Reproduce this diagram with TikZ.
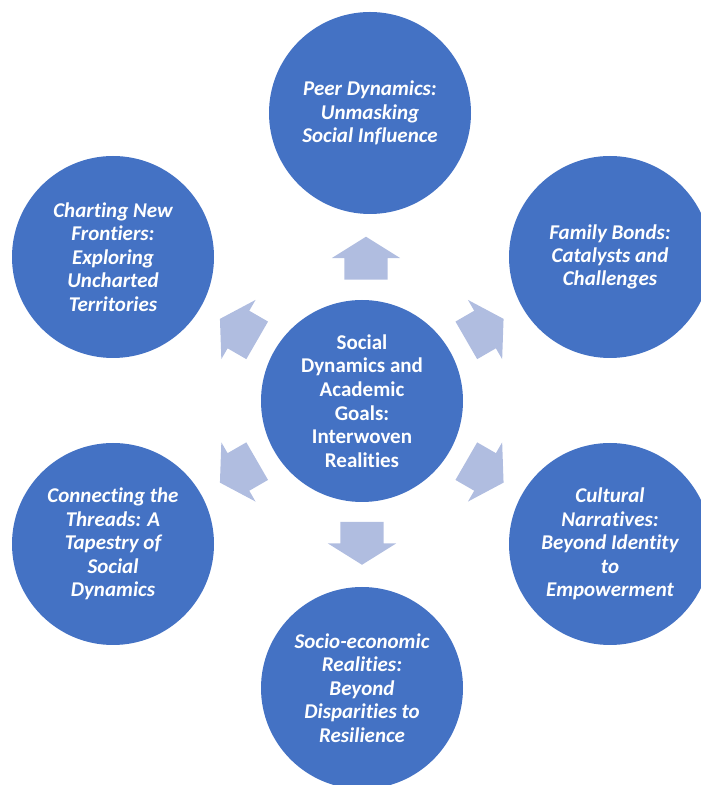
\documentclass[tikz,border=0pt]{standalone}
\usepackage{fontspec}
\setmainfont[Ligatures=NoCommon]{Carlito}
\usetikzlibrary{shapes.arrows,calc}
\definecolor{circblue}{RGB}{68,114,196}
\definecolor{arrblue}{RGB}{176,189,224}

\begin{document}
\begin{tikzpicture}[x=1pt,y=1pt]
                \tikzstyle{topic}=[circle, fill=circblue, minimum size=202pt, inner sep=0pt, text=white, align=center, font=\fontsize{21}{23.4}\selectfont\bfseries\itshape]
                \tikzstyle{hub}=[topic, font=\fontsize{21}{23.6}\selectfont\bfseries]
                \tikzset{flow/.style={single arrow, fill=arrblue, inner sep=0pt, text height=21.5pt, text depth=21.5pt, minimum height=43pt, single arrow head extend=12.5pt, single arrow tip angle=116, rotate=#1, xshift=-8pt}}
                \useasboundingbox (0,0) rectangle (701,785);

                \node[hub] (c) at (362,384) {Social\\Dynamics and\\Academic\\Goals:\\Interwoven\\Realities};

                \node[topic] (peer) at (370,672) {Peer Dynamics:\\Unmasking\\Social Influence};
                \node[topic] (family) at (610,528) {Family Bonds:\\Catalysts and\\Challenges};
                \node[topic] (culture) at (610,241) {Cultural\\Narratives:\\Beyond Identity\\to\\Empowerment};
                \node[topic] (socio) at (362,97) {Socio-economic\\Realities:\\Beyond\\Disparities to\\Resilience};
                \node[topic] (threads) at (113,241) {Connecting the\\Threads: A\\Tapestry of\\Social\\Dynamics};
                \node[topic] (charting) at (113,528) {Charting New\\Frontiers:\\Exploring\\Uncharted\\Territories};

                \node[flow=90] (a1) at ($(c)!.5!(peer)$) {};
                \node[flow=30] (a2) at ($(c)!.5!(family)$) {};
                \node[flow=-30] (a3) at ($(c)!.5!(culture)$) {};
                \node[flow=-90] (a4) at ($(c)!.5!(socio)$) {};
                \node[flow=210] (a5) at ($(c)!.5!(threads)$) {};
                \node[flow=150] (a6) at ($(c)!.5!(charting)$) {};
            \end{tikzpicture}
\end{document}
